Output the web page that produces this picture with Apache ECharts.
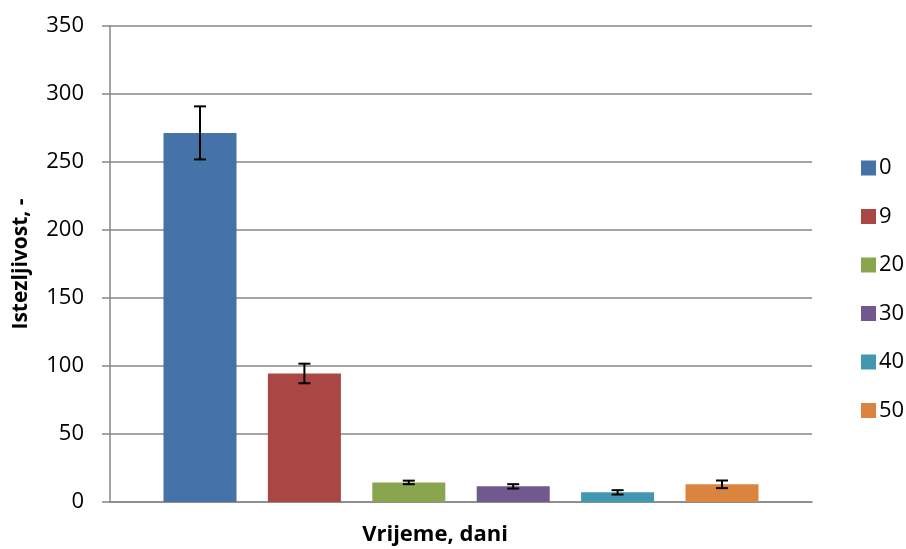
<!DOCTYPE html>
<html><head><meta charset="utf-8">
<script src="https://cdn.jsdelivr.net/npm/echarts@6/dist/echarts.min.js"></script>
<style>html,body{margin:0;padding:0;background:#fff}#c{width:906px;height:549px}</style>
</head><body><div id="c"></div>
<script>
var seriesNames = ['0', '9', '20', '30', '40', '50'];
var values = [271.4, 94.5, 14.4, 11.5, 7.1, 13.0];
var errors = [19.5, 7.2, 1.3, 1.6, 1.6, 2.8];
var colors = ['#4572A7', '#AA4643', '#89A54E', '#71588F', '#4198AF', '#DB843D'];
var yTicks = [0, 50, 100, 150, 200, 250, 300, 350];

var BW = 0.104, GAP = 0.43;
var FONT = 'Open Sans';
var chart = echarts.init(document.getElementById('c'));
var series = seriesNames.map(function (n, i) {
  return {
    name: n, type: 'bar', data: [values[i]],
    barWidth: (BW * 100) + '%', barGap: (GAP * 100) + '%',
    itemStyle: { color: colors[i] }, z: 2
  };
});
series.push({
  type: 'custom', z: 5, silent: true,
  data: values.map(function (v, i) { return [0, v - errors[i], v + errors[i], i]; }),
  renderItem: function (params, api) {
    var i = api.value(3);
    var band = api.size([1, 0])[0];
    var bw = band * BW, step = bw * (1 + GAP);
    var lo = api.coord([0, api.value(1)]);
    var hi = api.coord([0, api.value(2)]);
    var x = lo[0] + (i - 2.5) * step;
    var h = 6;
    var st = { stroke: '#000', lineWidth: 2 };
    return { type: 'group', children: [
      { type: 'line', shape: { x1: x, y1: lo[1], x2: x, y2: hi[1] }, style: st },
      { type: 'line', shape: { x1: x - h, y1: lo[1], x2: x + h, y2: lo[1] }, style: st },
      { type: 'line', shape: { x1: x - h, y1: hi[1], x2: x + h, y2: hi[1] }, style: st }
    ]};
  }
});
chart.setOption({
  animation: false,
  textStyle: { fontFamily: FONT },
  grid: { left: 110, right: 94, top: 26, bottom: 47, containLabel: false, outerBoundsMode: 'none' },
  legend: {
    orient: 'vertical', left: 856, top: 152,
    itemWidth: 15, itemHeight: 15, itemGap: 26.5,
    icon: 'rect',
    data: seriesNames,
    textStyle: { fontSize: 22, color: '#000', fontFamily: FONT, padding: [0, 0, 0, -2] }
  },
  xAxis: {
    type: 'category', data: [''],
    name: 'Vrijeme, dani', nameLocation: 'middle', nameGap: 22,
    nameTextStyle: { fontSize: 22, fontWeight: 'bold', color: '#000', fontFamily: FONT, padding: [0, 52, 0, 0] },
    axisLine: { lineStyle: { color: '#868686', width: 1.5 } },
    axisTick: { show: false }, axisLabel: { show: false }
  },
  yAxis: {
    type: 'value', min: yTicks[0], max: yTicks[yTicks.length - 1], interval: 50,
    name: 'Istezljivost, -', nameLocation: 'middle', nameGap: 78, nameRotate: 90,
    nameTextStyle: { fontSize: 21, fontWeight: 'bold', color: '#000', fontFamily: FONT },
    axisLine: { show: true, lineStyle: { color: '#868686', width: 1.5 } },
    axisTick: { show: true, length: 8, lineStyle: { color: '#868686', width: 1.5 } },
    axisLabel: { fontSize: 22, color: '#000', margin: 26, fontFamily: FONT },
    splitLine: { lineStyle: { color: '#868686', width: 1.5 } }
  },
  series: series
});
</script></body></html>
